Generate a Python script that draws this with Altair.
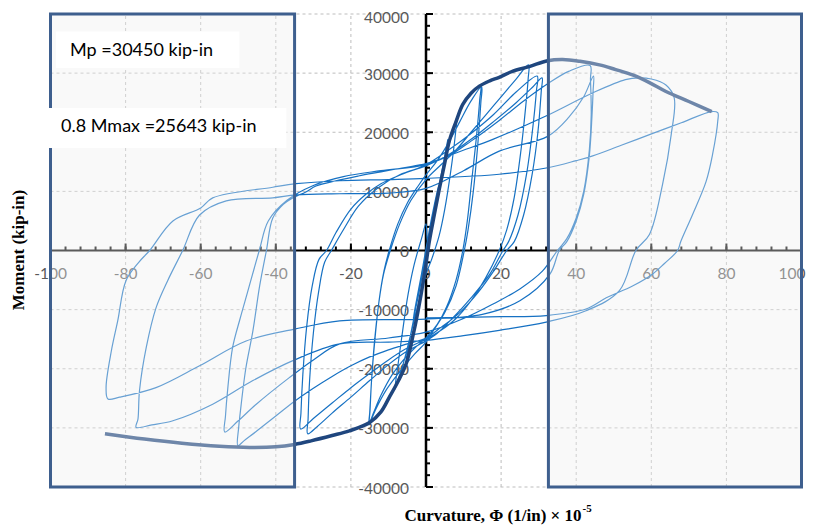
import altair as alt
import pandas as pd

# ---------------- data ----------------
# curvature (x 1e-5 1/in) and moment (kip-in), one list pair per test stage
el_phi = [0, 1.2, 2.4, 3.4, 3.0, 1.5, 0.2, -1.2, -2.4, -3.4, -3.0, -1.5, -0.2,
          0.5, 2.0, 3.5, 5.0, 5.8, 5.2, 3.8, 2.2, 0.6, -1.0, -2.5, -4.0, -5.3, -4.8, -3.4, -1.8, -0.4]
el_m = [0, 4000, 8000, 11000, 10000, 5500, 1000, -4000, -8000, -11500, -10500, -6000, -1000,
        1000, 6000, 11000, 16000, 18800, 16500, 12000, 6500, 1000, -4000, -9000, -14000, -18800, -16500, -12000, -6500, -1500]

c8_phi = [1.0, 3.0, 5.0, 7.0, 8.2, 7.8, 6.5, 5.0, 3.5, 1.5, 0.0, -2.0, -4.0, -6.0, -7.8, -8.3, -7.6, -6.2, -4.8,
          -3.2, -1.2, 0.0]
c8_m = [3500, 9500, 15000, 20000, 22500, 19500, 13000, 7000, 2500, -1500, -4000, -9000, -14000, -19000, -22500, -23500,
        -20000, -13500, -7500, -2500, 2000, 4500]

c14a_phi = [0.4, 2.0, 4.0, 6.0, 8.0, 10.0, 12.0, 14.5, 14.3, 13.4, 12.2, 11.0, 9.8, 8.0, 5.5, 3.0, 0.0,
            -3.0, -6.0, -9.0, -12.0, -14.0, -15.1, -14.9, -14.5, -13.6, -12.5, -11.2, -9.8, -7.5, -5.0, -2.0,
            0.0, 3.0, 6.0, 9.0, 12.0, 14.8]
c14a_m = [1500, 5500, 11700, 17800, 21800, 24800, 26600, 27800, 25500, 19000, 12000, 5000, 0, -5000, -9500, -12500, -14800,
          -16500, -18500, -21000, -24500, -27500, -29200, -27000, -22000, -15000, -8500, -3500, 0, 4500, 8000, 11000,
          12800, 15200, 18200, 21800, 25300, 27700]

c14b_phi = [14.6, 13.8, 12.6, 11.2, 10.2, 8.0, 5.0, 2.0, 0.0, -3.0, -7.0, -10.5, -13.5, -15.2, -15.0, -14.6, -13.8,
            -12.6, -11.3, -9.5, -7.0, -4.0, 0.0, 4.0, 8.0, 12.0, 16.0, 20.0, 24.0, 27.3]
c14b_m = [25000, 18000, 10000, 3500, 0, -6000, -10500, -13500, -15500, -17500, -20500, -23500, -27000, -29500, -27500, -23000, -16000,
          -9000, -4000, 0, 4500, 8500, 12000, 14500, 17000, 20000, 23000, 26000, 29000, 31400]

c30a_phi = [27.2, 26.5, 25.3, 23.5, 21.5, 19.5, 16.0, 12.0, 8.0, 4.0, 0.0, -5.0, -10.0, -15.0, -20.0, -25.0, -30.0, -33.4,
            -33.3, -32.8, -31.8, -30.3, -28.5, -26.5, -24.0, -20.0, -16.0, -12.0, -6.0, 0.0, 6.0, 12.0, 18.0, 24.0, 29.6]
c30a_m = [29000, 24000, 17000, 9000, 3500, 0, -4500, -8500, -11500, -13500, -15000, -16500, -18500, -20800, -23200, -25800, -28400, -30200,
          -27500, -21000, -13000, -6000, -1500, 0, 3000, 7000, 9500, 11300, 13000, 14500, 17000, 19800, 23000, 26800, 29500]

c30b_phi = [29.4, 28.3, 26.8, 24.5, 22.0, 20.5, 17.0, 12.0, 7.0, 3.0, 0.0, -5.0, -10.0, -15.0, -20.0, -25.0, -29.0, -31.5,
            -31.4, -31.0, -30.0, -28.6, -27.0, -25.2, -22.0, -18.0, -13.0, -7.0, 0.0, 6.0, 12.0, 18.0, 24.0, 28.5, 30.9]
c30b_m = [27000, 20000, 13000, 6000, 1500, 0, -4000, -8000, -11500, -14000, -15300, -17000, -19300, -22000, -24800, -27500, -29800, -31000,
          -28500, -22000, -14000, -7000, -2000, 0, 3500, 7500, 10500, 12800, 14300, 16200, 18800, 21800, 25000, 27700, 29200]

c30c_phi = [30.7, 29.8, 28.3, 26.0, 23.5, 21.5, 18.0, 14.0, 9.0, 4.0, 0.0, -5.0, -10.0, -15.0, -20.0, -25.0, -30.0, -35.0,
            -40.0, -45.0, -48.5, -50.1, -49.9, -49.5, -48.0, -46.1, -44.3, -42.5, -40.8, -38.0, -35.5, -32.0, -29.3,
            -24.0, -18.0, -12.0, -6.0, 0.0, 6.0, 12.0, 19.5, 26.0, 32.4, 38.0, 43.7]
c30c_m = [27000, 20000, 13000, 6000, 1500, 0, -3500, -7000, -10500, -13000, -14800, -15800, -16800, -18000, -19500, -21300, -23300, -25500,
          -28000, -30500, -32200, -33000, -30000, -27600, -20000, -13600, -6000, 0, 5500, 7800, 8900, 9900, 10900,
          11800, 12600, 13300, 14000, 14700, 16000, 18500, 22000, 25300, 28200, 30300, 31300]

c44a_phi = [43.8, 44.0, 43.5, 42.0, 40.0, 37.5, 35.0, 31.0, 25.0, 18.0, 10.0, 0.0, -10.0, -23.0, -30.0, -36.4, -45.2,
            -50.0, -53.6, -53.4, -52.8, -51.5, -49.5, -47.5, -44.4, -42.0, -37.0, -30.0, -22.0, -12.0, 0.0, 8.0,
            17.8, 31.8, 44.2, 53.1, 56.8, 60.0, 63.9, 66.1]
c44a_m = [29000, 23000, 17000, 10000, 5500, 2000, 0, -3500, -6500, -9000, -11500, -13800, -14800, -15800, -18500, -21500, -26000,
          -28800, -30700, -28000, -23400, -16400, -11500, -7000, 0, 5000, 8500, 11000, 12500, 13500, 14500, 16500,
          18800, 22700, 26600, 28900, 29200, 29000, 28000, 25800]

c66_phi = [65.3, 63.0, 59.5, 55.9, 51.5, 42.6, 32.0, 19.5, 10.0, 0.0, -10.0, -23.0, -35.0, -46.1, -56.8, -67.4, -73.0, -77.2,
           -76.7, -76.3, -74.5, -71.9, -68.8, -64.8, -60.3, -53.2, -40.8, -34.6, -23.0, -10.0, 0.0, 10.0, 19.5,
           32.4, 38.0, 42.0, 44.6]
c66_m = [19600, 11200, 2700, 0, -6800, -10200, -12100, -13500, -14400, -15200, -15500, -15800, -18500, -22000, -26000, -28800, -29500, -29900,
         -28500, -23700, -16400, -9700, -5100, 0, 6000, 8400, 8900, 9400, 9600, 9700, 10500, 13500, 16800,
         19300, 22500, 26000, 29500]

c77_phi = [44.5, 44.2, 43.5, 42.0, 40.0, 37.5, 35.5, 33.0, 25.0, 15.0, 0.0, -23.0, -35.0, -47.9, -60.3, -71.9, -81.6, -84.7,
           -85.2, -83.8, -82.1, -79.9, -76.5, -73.6, -67.4, -60.0, -56.8, -40.8, -34.6, -23.0, -10.0, 0.0, 19.5,
           32.4, 40.0, 44.4, 52.0, 60.4, 68.0, 76.1, 77.7]
c77_m = [27000, 22700, 16000, 9500, 5000, 1500, 0, -4000, -8500, -10800, -11600, -11900, -13300, -15300, -19500, -23200, -24800, -25100,
         -23200, -17000, -11900, -5100, -2000, 0, 5000, 7200, 8900, 10700, 11300, 11800, 12000, 12200, 12900,
         14000, 15200, 16000, 17800, 19800, 21600, 23500, 23300]

end_phi = [77.7, 76.3, 74.6, 71.0, 67.9, 67.0, 63.5, 60.3, 55.0, 48.0, 42.6, 32.0, 20.0, 10.0, 0.0]
end_m = [21900, 16200, 11700, 6100, 1600, 0, -2200, -4000, -6000, -8000, -9900, -11000, -11200, -11300, -11400]

# backbone (envelope) curve
env_phi = [-85.5, -75, -65, -55, -47, -40, -35, -30.6, -25, -20.4, -15, -12, -9.75, -7.5, -5.3, -3.5, -2.2, -0.4,
           0.9, 2.2, 3.6, 5.0, 6.2, 8.0, 9.8, 12, 14.2, 17, 19.5, 23, 27.5, 32.4, 36.4, 41, 46.2, 50.5, 55, 59.5,
           63.9, 70, 76.1]
env_m = [-31000, -31900, -32600, -33100, -33300, -33200, -32800, -32200, -31300, -30500, -29100, -27300, -24800, -22200,
         -19200, -14500, -10500, -4000, 1600, 6000, 10600, 14800, 18500, 21800, 24700, 26600, 27800, 28700, 29300,
         30300, 31100, 32100, 32300, 32000, 31400, 30600, 29700, 28400, 26900, 25200, 23500]

x_major = [-100, -80, -60, -40, -20, 0, 20, 40, 60, 80, 100]
x_minor = list(range(-100, 101, 4))
y_major = [-40000, -30000, -20000, -10000, 0, 10000, 20000, 30000, 40000]
y_minor = list(range(-40000, 40001, 2000))

box_x1 = [-100, 32.6]
box_x2 = [-35, 100]

note_text = ["Mp =30450 kip-in", "0.8 Mmax =25643 kip-in"]
note_x = [-94.8, -97.2]
note_y = [33790, 20840]
note_bx1 = [-98.5, -100.4]
note_bx2 = [-49.7, -37.2]
note_by1 = [30850, 17350]
note_by2 = [37050, 24100]

# ---------------- build tables ----------------
segments = [(el_phi, el_m), (c8_phi, c8_m), (c14a_phi, c14a_m), (c14b_phi, c14b_m), (c30a_phi, c30a_m),
            (c30b_phi, c30b_m), (c30c_phi, c30c_m), (c44a_phi, c44a_m), (c66_phi, c66_m),
            (c77_phi, c77_m), (end_phi, end_m)]
rows = []
for ps, ms in segments:
    for p, m in zip(ps, ms):
        rows.append({"phi": p, "M": m, "i": len(rows)})
loops = pd.DataFrame(rows)
env = pd.DataFrame({"phi": env_phi, "M": env_m, "i": list(range(len(env_phi)))})

W, H = 751, 473
xs = alt.Scale(domain=[-100, 100], nice=False, zero=False)
ys = alt.Scale(domain=[-40000, 40000], nice=False, zero=False)


def X(f):
    return alt.X(f, scale=xs, axis=None)


def Y(f):
    return alt.Y(f, scale=ys, axis=None)


xg = pd.DataFrame({"v": x_major, "lo": -40000, "hi": 40000})
yg = pd.DataFrame({"v": y_major, "lo": -100, "hi": 100})
grid_x = alt.Chart(xg).mark_rule(color="#bdbdbd", strokeDash=[3, 3], strokeWidth=1).encode(
    x=X("v:Q"), y=Y("lo:Q"), y2="hi:Q")
grid_y = alt.Chart(yg).mark_rule(color="#bdbdbd", strokeDash=[3, 3], strokeWidth=1).encode(
    y=Y("v:Q"), x=X("lo:Q"), x2="hi:Q")

axes_df = pd.DataFrame({"a": [-100], "b": [100], "c": [-40000], "d": [40000], "z": [0]})
x_line = alt.Chart(axes_df).mark_rule(color="black", strokeWidth=2).encode(x=X("a:Q"), x2="b:Q", y=Y("z:Q"))
y_line = alt.Chart(axes_df).mark_rule(color="black", strokeWidth=2.5).encode(y=Y("c:Q"), y2="d:Q", x=X("z:Q"))

xt_major = pd.DataFrame({"v": x_major, "z": 0, "lab": [str(v) for v in x_major]})
xt_minor = pd.DataFrame({"v": x_minor, "z": 0})
yt_major = pd.DataFrame({"v": y_major, "z": 0, "lab": [str(v) for v in y_major]})
yt_minor = pd.DataFrame({"v": y_minor, "z": 0})
xtick1 = alt.Chart(xt_major).mark_rule(color="black", strokeWidth=2, y2Offset=-7).encode(
    x=X("v:Q"), y=Y("z:Q"), y2="z:Q")
xtick2 = alt.Chart(xt_minor).mark_rule(color="black", strokeWidth=2, y2Offset=-4).encode(
    x=X("v:Q"), y=Y("z:Q"), y2="z:Q")
ytick1 = alt.Chart(yt_major).mark_rule(color="black", strokeWidth=2, x2Offset=7).encode(
    y=Y("v:Q"), x=X("z:Q"), x2="z:Q")
ytick2 = alt.Chart(yt_minor).mark_rule(color="black", strokeWidth=2, x2Offset=4).encode(
    y=Y("v:Q"), x=X("z:Q"), x2="z:Q")

LABEL = dict(font="Lato", fontSize=15.5, color="#595959", baseline="middle")
xlab = alt.Chart(xt_major[xt_major["v"] < 100]).mark_text(align="center", dy=23, **LABEL).encode(
    x=X("v:Q"), y=Y("z:Q"), text="lab:N")
xlab_end = alt.Chart(xt_major[xt_major["v"] == 100]).mark_text(align="right", dx=4, dy=23, **LABEL).encode(
    x=X("v:Q"), y=Y("z:Q"), text="lab:N")
ylab = alt.Chart(yt_major[yt_major["v"] < 40000]).mark_text(align="right", dx=-17, dy=1.5, **LABEL).encode(
    y=Y("v:Q"), x=X("z:Q"), text="lab:N")
ylab_top = alt.Chart(yt_major[yt_major["v"] == 40000]).mark_text(align="right", dx=-17, dy=3.5, **LABEL).encode(
    y=Y("v:Q"), x=X("z:Q"), text="lab:N")

loop_line = alt.Chart(loops).mark_line(color="#1671c3", strokeWidth=1.2, interpolate="catmull-rom").encode(
    x=X("phi:Q"), y=Y("M:Q"), order="i:Q")

env_line = alt.Chart(env).mark_line(color="#1f467e", strokeWidth=3.5, interpolate="catmull-rom").encode(
    x=X("phi:Q"), y=Y("M:Q"), order="i:Q")

boxes = pd.DataFrame({"x1": box_x1, "x2": box_x2, "y1": -40000, "y2": 40000})
box_fill = alt.Chart(boxes).mark_rect(fill="#efefef", fillOpacity=0.38).encode(
    x=X("x1:Q"), x2="x2:Q", y=Y("y1:Q"), y2="y2:Q")
box_edge = alt.Chart(boxes).mark_rect(fillOpacity=0, stroke="#3e5f8e", strokeWidth=3).encode(
    x=X("x1:Q"), x2="x2:Q", y=Y("y1:Q"), y2="y2:Q")

notes = pd.DataFrame({"t": note_text, "x": note_x, "y": note_y, "bx1": note_bx1, "bx2": note_bx2,
                      "by1": note_by1, "by2": note_by2})
note_bg = alt.Chart(notes).mark_rect(fill="white").encode(x=X("bx1:Q"), x2="bx2:Q", y=Y("by1:Q"), y2="by2:Q")
note_tx = alt.Chart(notes).mark_text(font="Lato", fontSize=18, align="left", baseline="middle", color="black").encode(
    x=X("x:Q"), y=Y("y:Q"), text="t:N")

tdf = pd.DataFrame({"t": ["Curvature, \u03a6 (1/in) \u00d7 10"], "s": ["-5"], "y": ["Moment (kip-in)"]})
xt_main = alt.Chart(tdf).mark_text(font="Liberation Serif", fontWeight="bold", fontSize=17, align="right",
                                   baseline="middle", color="black").encode(
    x=alt.value(531), y=alt.value(502), text="t:N")
xt_sup = alt.Chart(tdf).mark_text(font="Liberation Serif", fontWeight="bold", fontSize=11, align="left",
                                  baseline="middle", color="black").encode(
    x=alt.value(532), y=alt.value(495), text="s:N")
yt = alt.Chart(tdf).mark_text(font="Liberation Serif", fontWeight="bold", fontSize=17, align="center",
                              baseline="middle", angle=270, color="black").encode(
    x=alt.value(-32), y=alt.value(236), text="y:N")

chart = alt.layer(grid_x, grid_y, x_line, y_line, xtick1, xtick2, ytick1, ytick2, xlab, xlab_end, ylab, ylab_top,
                  loop_line, env_line, box_fill, box_edge, note_bg, note_tx, xt_main, xt_sup, yt).properties(
    width=W, height=H, autosize=alt.AutoSizeParams(type="none"),
    padding={"left": 42.5, "top": 6, "right": 6, "bottom": 42}
).configure_view(stroke=None)

chart.save("out.html", embed_options={"renderer": "svg", "actions": False})
